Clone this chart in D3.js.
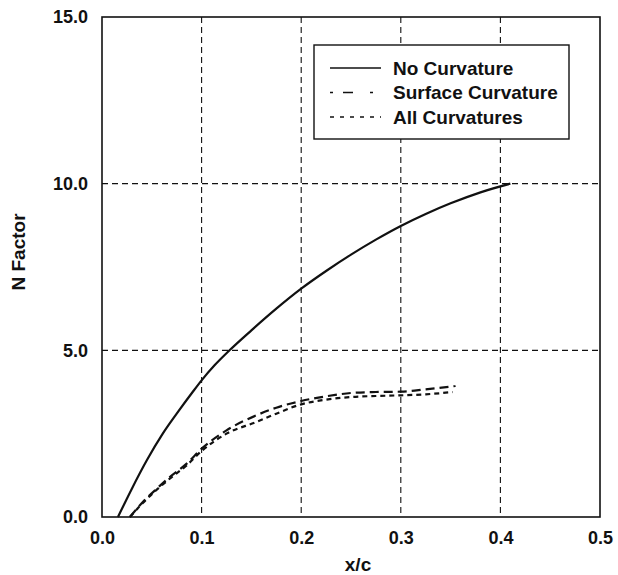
<!DOCTYPE html>
<html>
<head>
<meta charset="utf-8">
<script src="https://cdn.jsdelivr.net/npm/d3@7"></script>
<style>
  html, body { margin: 0; padding: 0; background: #fff; }
  svg { display: block; }
  text { font-family: "Liberation Sans", Arial, Helvetica, sans-serif; font-weight: bold; fill: #111; }
</style>
</head>
<body>
<svg id="chart" width="618" height="575"></svg>
<script>
// N-factor growth along the chord, three curvature treatments
const noCurvX = [0.016, 0.03, 0.045, 0.061, 0.075, 0.091, 0.1, 0.113, 0.128, 0.15, 0.175, 0.2, 0.225, 0.25, 0.275, 0.3, 0.325, 0.35, 0.38, 0.41];
const noCurvN = [0.0, 0.85, 1.7, 2.5, 3.1, 3.75, 4.1, 4.55, 5.0, 5.6, 6.25, 6.85, 7.38, 7.87, 8.32, 8.73, 9.09, 9.41, 9.74, 10.0];

const surfCurvX = [0.028, 0.041, 0.055, 0.068, 0.085, 0.1, 0.125, 0.155, 0.175, 0.2, 0.225, 0.25, 0.275, 0.3, 0.325, 0.355];
const surfCurvN = [0.0, 0.45, 0.85, 1.2, 1.6, 2.05, 2.6, 3.05, 3.28, 3.48, 3.62, 3.72, 3.75, 3.76, 3.83, 3.93];

const allCurvX = [0.028, 0.041, 0.055, 0.068, 0.085, 0.1, 0.125, 0.155, 0.175, 0.2, 0.225, 0.25, 0.275, 0.3, 0.325, 0.352];
const allCurvN = [0.0, 0.42, 0.82, 1.15, 1.55, 1.98, 2.5, 2.85, 3.1, 3.38, 3.52, 3.6, 3.63, 3.65, 3.68, 3.75];

const seriesNames = ["No Curvature", "Surface Curvature", "All Curvatures"];

const xTicks = [0.0, 0.1, 0.2, 0.3, 0.4, 0.5];
const xTickLabels = ["0.0", "0.1", "0.2", "0.3", "0.4", "0.5"];
const yTicks = [0, 5, 10, 15];
const yTickLabels = ["0.0", "5.0", "10.0", "15.0"];
const xGrid = [0.1, 0.2, 0.3, 0.4];
const yGrid = [5, 10];

const svg = d3.select("#chart");
const plot = { left: 102, right: 600, top: 17, bottom: 517 };

const x = d3.scaleLinear().domain([0, 0.5]).range([plot.left, plot.right]);
const y = d3.scaleLinear().domain([0, 15]).range([plot.bottom, plot.top]);

// dashed grid
const grid = svg.append("g").attr("stroke", "#111").attr("stroke-width", 1.1).attr("stroke-dasharray", "6,4");
grid.selectAll("line.v").data(xGrid).join("line")
  .attr("x1", d => x(d)).attr("x2", d => x(d))
  .attr("y1", plot.top).attr("y2", plot.bottom);
grid.selectAll("line.h").data(yGrid).join("line")
  .attr("x1", plot.left).attr("x2", plot.right)
  .attr("y1", d => y(d)).attr("y2", d => y(d));

// axes (labels only, frame drawn separately)
function styleTicks(g) {
  g.select(".domain").remove();
  g.selectAll("text")
    .style("font-size", "18px")
    .style("font-family", "Liberation Sans, Arial, sans-serif")
    .style("font-weight", "bold")
    .attr("fill", "#111");
}
const xAxis = d3.axisBottom(x).tickValues(xTicks)
  .tickFormat((d, i) => xTickLabels[i]).tickSize(0).tickPadding(14);
svg.append("g").attr("transform", `translate(0,${plot.bottom})`).call(xAxis).call(styleTicks);

const yAxis = d3.axisLeft(y).tickValues(yTicks)
  .tickFormat((d, i) => yTickLabels[i]).tickSize(0).tickPadding(14);
svg.append("g").attr("transform", `translate(${plot.left},0)`).call(yAxis).call(styleTicks);

// frame
svg.append("rect")
  .attr("x", plot.left).attr("y", plot.top)
  .attr("width", plot.right - plot.left).attr("height", plot.bottom - plot.top)
  .attr("fill", "none").attr("stroke", "#111").attr("stroke-width", 1.6);

// axis titles
svg.append("text").attr("x", 358).attr("y", 571).attr("text-anchor", "middle")
  .style("font-size", "19px").text("x/c");
svg.append("text").attr("transform", "translate(25,252) rotate(-90)").attr("text-anchor", "middle")
  .style("font-size", "19px").text("N Factor");

// curves
const line = d3.line().x(d => x(d[0])).y(d => y(d[1])).curve(d3.curveMonotoneX);
const series = [
  { name: seriesNames[0], pts: d3.zip(noCurvX, noCurvN), dash: null, legendDash: null },
  { name: seriesNames[1], pts: d3.zip(surfCurvX, surfCurvN), dash: "9,5", legendDash: "3,10,10,17,3,20" },
  { name: seriesNames[2], pts: d3.zip(allCurvX, allCurvN), dash: "5,4", legendDash: "4,6" }
];

svg.append("g").selectAll("path").data(series).join("path")
  .attr("d", d => line(d.pts))
  .attr("fill", "none").attr("stroke", "#111").attr("stroke-width", 2.2)
  .attr("stroke-dasharray", d => d.dash);

// legend
const lg = svg.append("g");
lg.append("rect").attr("x", 314).attr("y", 45).attr("width", 255).attr("height", 94)
  .attr("fill", "#fff").attr("stroke", "#111").attr("stroke-width", 1.4);
const rows = lg.selectAll("g.row").data(series).join("g")
  .attr("transform", (d, i) => `translate(0,${68 + i * 24.5})`);
rows.append("line").attr("x1", 330).attr("x2", 381).attr("y1", 0).attr("y2", 0)
  .attr("stroke", "#111").attr("stroke-width", 1.3)
  .attr("stroke-dasharray", d => d.legendDash);
rows.append("text").attr("x", 393).attr("y", 0).attr("dy", "0.36em")
  .style("font-size", "19px").text(d => d.name);
</script>
</body>
</html>
